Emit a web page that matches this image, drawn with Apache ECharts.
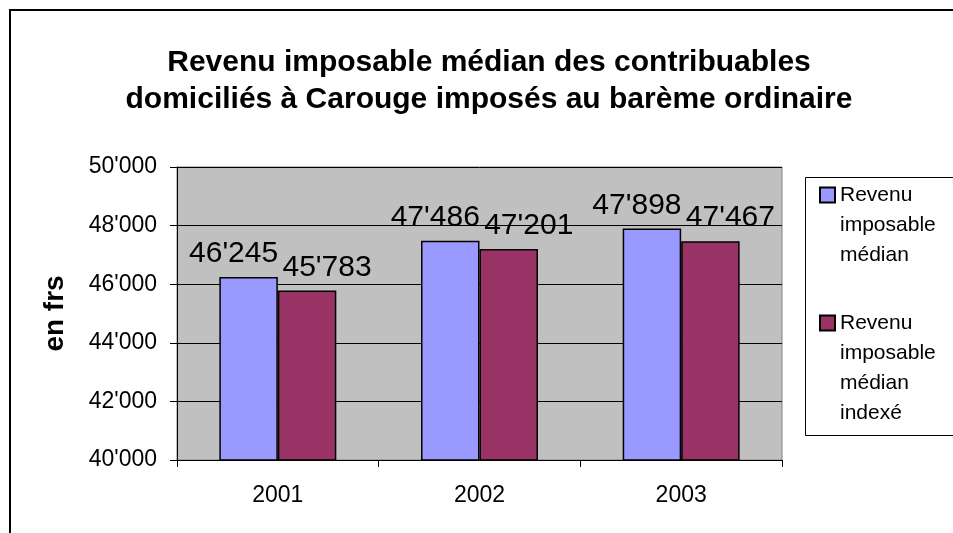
<!DOCTYPE html>
<html>
<head>
<meta charset="utf-8">
<script src="https://cdn.jsdelivr.net/npm/echarts@6/dist/echarts.min.js"></script>
<style>
	html, body { margin: 0; padding: 0; background: #fff; }
	#chart { width: 953px; height: 533px; }
</style>
</head>
<body>
<div id="chart"></div>
<script>
// données
var years = ['2001', '2002', '2003']
var revenuMedian = [46245, 47486, 47898]
var revenuIndexe = [45783, 47201, 47467]
var seriesNames = ['Revenu\nimposable\nmédian', 'Revenu\nimposable\nmédian\nindexé']
var yTicks = { min: 40000, max: 50000, step: 2000 }

var police = '"Liberation Sans", Arial, Helvetica, sans-serif'

// 46245 -> 46'245
function fmt(v) {
	return String(v).replace(/\B(?=(\d{3})+(?!\d))/g, "'")
}

var chart = echarts.init(document.getElementById('chart'))

var option = {
	animation: false,
	backgroundColor: '#fff',
	textStyle: { fontFamily: police, color: '#000' },
	title: {
		text: 'Revenu imposable médian des contribuables\ndomiciliés à Carouge imposés au barème ordinaire',
		left: 489,
		top: 44,
		textAlign: 'center',
		padding: 0,
		textStyle: {
			fontFamily: police,
			fontSize: 30,
			fontWeight: 'bold',
			lineHeight: 37,
			color: '#000'
		}
	},
	graphic: [
		{
			// cadre extérieur
			type: 'rect',
			z: 0,
			shape: { x: 10, y: 10, width: 1000, height: 600 },
			style: { fill: 'none', stroke: '#000', lineWidth: 2 }
		},
		{
			// cadre de la légende
			type: 'rect',
			z: 0,
			shape: { x: 805.5, y: 177.5, width: 200, height: 258 },
			style: { fill: '#fff', stroke: '#000', lineWidth: 1 }
		}
	],
	grid: {
		left: 177,
		right: 171,
		top: 167,
		bottom: 73,
		show: true,
		backgroundColor: '#C0C0C0',
		borderColor: '#808080',
		borderWidth: 1
	},
	legend: {
		orient: 'vertical',
		left: 819,
		top: 120,
		padding: 0,
		itemGap: -52,
		itemWidth: 15,
		itemHeight: 15,
		icon: 'rect',
		selectedMode: false,
		textStyle: {
			fontFamily: police,
			fontSize: 21,
			lineHeight: 30,
			color: '#000',
			rich: {}
		},
		formatter: function(name) {
			return name
		}
	},
	xAxis: {
		type: 'category',
		data: years,
		axisLine: { lineStyle: { color: '#000', width: 1 } },
		axisTick: { show: true, length: 7, lineStyle: { color: '#000' } },
		axisLabel: { fontSize: 23, color: '#000', margin: 24, fontFamily: police },
		splitLine: { show: false }
	},
	yAxis: {
		type: 'value',
		min: yTicks.min,
		max: yTicks.max,
		interval: yTicks.step,
		name: 'en frs',
		nameLocation: 'middle',
		nameRotate: 90,
		nameGap: 108,
		nameTextStyle: { fontSize: 28, fontWeight: 'bold', color: '#000', fontFamily: police },
		axisLine: { show: true, lineStyle: { color: '#000', width: 1 } },
		axisTick: { show: true, length: 7, lineStyle: { color: '#000' } },
		axisLabel: {
			fontSize: 23,
			color: '#000',
			margin: 20,
			fontFamily: police,
			formatter: fmt
		},
		splitLine: { show: true, lineStyle: { color: '#000', width: 1 } }
	},
	series: [
		{
			name: seriesNames[0],
			type: 'bar',
			data: revenuMedian,
			barGap: '0%',
			barCategoryGap: '42%',
			itemStyle: { color: '#9999FF', borderColor: '#000', borderWidth: 1.5 },
			label: {
				show: true,
				position: 'top',
				distance: 8,
				offset: [-15, 0],
				fontSize: 30,
				color: '#000',
				fontFamily: police,
				formatter: function(p) { return fmt(p.value) }
			}
		},
		{
			name: seriesNames[1],
			type: 'bar',
			data: revenuIndexe,
			itemStyle: { color: '#993366', borderColor: '#000', borderWidth: 1.5 },
			label: {
				show: true,
				position: 'top',
				distance: 8,
				offset: [20, 0],
				fontSize: 30,
				color: '#000',
				fontFamily: police,
				formatter: function(p) { return fmt(p.value) }
			}
		}
	]
}

// texte de légende décalé vers le bas pour aligner la 1re ligne sur le carré
option.legend.data = seriesNames.map(function(n) {
	var lignes = n.split('\n').length
	return { name: n, textStyle: { padding: [(lignes - 1) * 30, 0, 0, 0] } }
})

chart.setOption(option)
</script>
</body>
</html>
